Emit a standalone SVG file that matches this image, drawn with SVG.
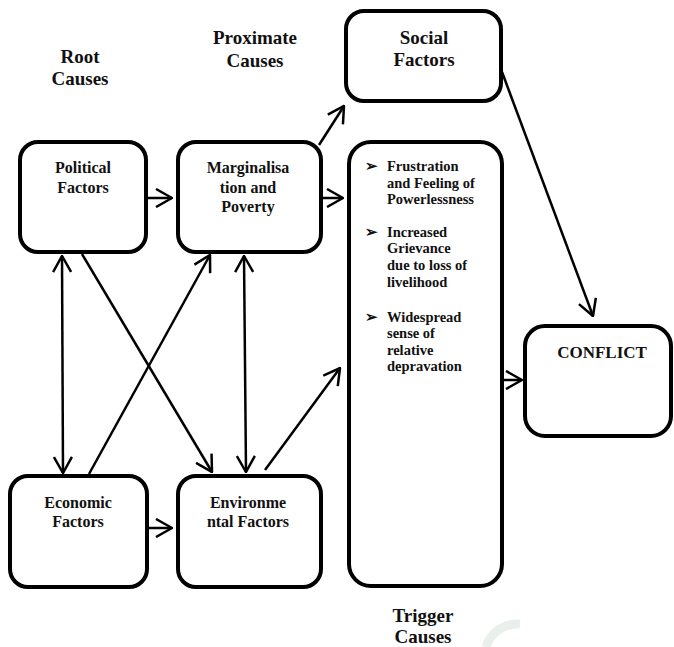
<svg xmlns="http://www.w3.org/2000/svg" width="674" height="647" viewBox="0 0 674 647">
<style>
.box{fill:#fff;stroke:#000;stroke-width:4}
.t{font-family:"Liberation Serif","Times New Roman",serif;font-weight:bold;fill:#111;text-anchor:middle}
.b{font-family:"Liberation Serif","Times New Roman",serif;font-weight:bold;fill:#111;font-size:14.5px}
.c{fill:none;stroke:#000;stroke-width:2.5}
</style>
<defs>
<marker id="ah" viewBox="0 0 18 20" refX="17" refY="10" markerWidth="18" markerHeight="20" markerUnits="userSpaceOnUse" orient="auto-start-reverse">
<path d="M1,1 L17,10 L1,19" fill="none" stroke="#000" stroke-width="2.5"/>
</marker>
</defs>
<rect width="674" height="647" fill="#fff"/>
<g id="watermark">
<path d="M520,624 A33,33 0 0 0 486,647" fill="none" stroke="#e9f0ec" stroke-width="9"/>
</g>
<g id="labels">
<text class="t" font-size="19" x="80" y="63">Root</text>
<text class="t" font-size="19" x="80" y="85">Causes</text>
<text class="t" font-size="19" x="255" y="44">Proximate</text>
<text class="t" font-size="19" x="255" y="67">Causes</text>
<text class="t" font-size="19" x="423" y="622">Trigger</text>
<text class="t" font-size="19" x="423" y="643">Causes</text>
</g>
<g id="connectors">
<line class="c" x1="148" y1="198" x2="172" y2="198" marker-end="url(#ah)"/>
<line class="c" x1="322" y1="198" x2="343" y2="198" marker-end="url(#ah)"/>
<line class="c" x1="319" y1="145" x2="344" y2="106" marker-end="url(#ah)"/>
<line class="c" x1="502" y1="72" x2="593" y2="316" marker-end="url(#ah)"/>
<line class="c" x1="504" y1="380" x2="522" y2="380" marker-end="url(#ah)"/>
<line class="c" x1="62" y1="256" x2="63" y2="473" marker-start="url(#ah)" marker-end="url(#ah)"/>
<line class="c" x1="82" y1="254" x2="212" y2="472" marker-end="url(#ah)"/>
<line class="c" x1="89" y1="474" x2="210" y2="255" marker-end="url(#ah)"/>
<line class="c" x1="244" y1="256" x2="246" y2="472" marker-start="url(#ah)" marker-end="url(#ah)"/>
<line class="c" x1="265" y1="470" x2="340" y2="368" marker-end="url(#ah)"/>
<line class="c" x1="148" y1="528" x2="172" y2="528" marker-end="url(#ah)"/>
</g>
<g id="political">
<rect class="box" x="20" y="142" width="126" height="110" rx="18"/>
<text class="t" font-size="16" x="83" y="173">Political</text>
<text class="t" font-size="16" x="83" y="193">Factors</text>
</g>
<g id="marginalisation">
<rect class="box" x="178" y="142" width="143" height="110" rx="18"/>
<text class="t" font-size="16" x="248" y="173">Marginalisa</text>
<text class="t" font-size="16" x="248" y="193">tion and</text>
<text class="t" font-size="16" x="248" y="212">Poverty</text>
</g>
<g id="social">
<rect class="box" x="346" y="11" width="155" height="90" rx="18"/>
<text class="t" font-size="19" x="424" y="44">Social</text>
<text class="t" font-size="19" x="424" y="66">Factors</text>
</g>
<g id="trigger">
<rect class="box" x="349" y="142" width="153" height="444" rx="22"/>
<text class="b" x="365" y="171" font-size="11">➢</text>
<text class="b" x="387" y="171">Frustration</text>
<text class="b" x="387" y="188">and Feeling of</text>
<text class="b" x="387" y="204">Powerlessness</text>
<text class="b" x="365" y="237" font-size="11">➢</text>
<text class="b" x="387" y="237">Increased</text>
<text class="b" x="387" y="253">Grievance</text>
<text class="b" x="387" y="270">due to loss of</text>
<text class="b" x="387" y="287">livelihood</text>
<text class="b" x="365" y="322" font-size="11">➢</text>
<text class="b" x="387" y="322">Widespread</text>
<text class="b" x="387" y="338">sense of</text>
<text class="b" x="387" y="355">relative</text>
<text class="b" x="387" y="371">depravation</text>
</g>
<g id="conflict">
<rect class="box" x="525" y="326" width="146" height="110" rx="20"/>
<text class="t" font-size="17" x="602" y="358">CONFLICT</text>
</g>
<g id="economic">
<rect class="box" x="10" y="476" width="137" height="111" rx="18"/>
<text class="t" font-size="16" x="78" y="508">Economic</text>
<text class="t" font-size="16" x="78" y="527">Factors</text>
</g>
<g id="environmental">
<rect class="box" x="178" y="476" width="143" height="111" rx="18"/>
<text class="t" font-size="16" x="248" y="508">Environme</text>
<text class="t" font-size="16" x="248" y="527">ntal Factors</text>
</g>
</svg>
